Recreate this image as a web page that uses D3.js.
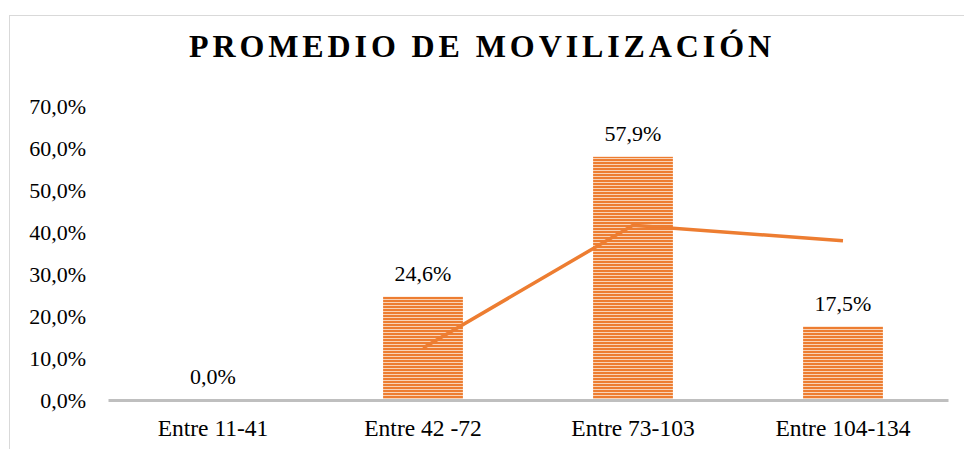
<!DOCTYPE html>
<html>
<head>
<meta charset="utf-8">
<script src="https://cdn.jsdelivr.net/npm/d3@7"></script>
<style>
  body { margin: 0; background: #fff; }
  svg { display: block; }
  svg text { font-family: "Liberation Serif", "Times New Roman", serif; }
</style>
</head>
<body>
<svg id="chart"></svg>
<script>
// data
const categories = ["Entre 11-41", "Entre 42 -72", "Entre 73-103", "Entre 104-134"];
const barValues = [0.0, 24.6, 57.9, 17.5];
const lineValues = [null, 12.4, 41.6, 37.9];
const yTicks = [0, 10, 20, 30, 40, 50, 60, 70];

const width = 964, height = 449;
const margin = { left: 108, right: 16, top: 106, bottom: 49 };
const orange = "#ED7D31";

const svg = d3.select("#chart").attr("width", width).attr("height", height);

// outer frame (only top/left visible in the shot)
svg.append("rect")
  .attr("x", 9.5).attr("y", 15.5)
  .attr("width", 2000).attr("height", 2000)
  .attr("fill", "none").attr("stroke", "#d9d9d9");

// striped fill for the bars
const pat = svg.append("defs").append("pattern")
  .attr("id", "stripes")
  .attr("patternUnits", "userSpaceOnUse")
  .attr("width", 8).attr("height", 3);
pat.append("rect").attr("width", 8).attr("height", 3).attr("fill", "#f9d3b6");
pat.append("rect").attr("width", 8).attr("height", 2).attr("fill", orange);

const x = d3.scaleBand()
  .domain(categories)
  .range([margin.left, width - margin.right])
  .paddingInner(0.62)
  .paddingOuter(0.31);

const y = d3.scaleLinear()
  .domain([0, 70])
  .range([height - margin.bottom, margin.top]);

// title
svg.append("text")
  .attr("x", width / 2).attr("y", 57)
  .attr("text-anchor", "middle")
  .attr("font-size", 32).attr("font-weight", "bold")
  .attr("letter-spacing", 3.9)
  .text("PROMEDIO DE MOVILIZACIÓN");

// y axis labels (no axis line)
const yAxis = svg.append("g")
  .attr("transform", `translate(${margin.left - 22},0)`)
  .call(d3.axisLeft(y).tickValues(yTicks).tickSize(0)
    .tickFormat(d => d.toFixed(1).replace(".", ",") + "%"));
yAxis.attr("font-family", null);
yAxis.select(".domain").remove();
yAxis.selectAll("text")
  .attr("font-size", 22).attr("fill", "#000")
  .attr("dy", "0.32em").attr("x", 0);

// bars
svg.append("g").selectAll("rect")
  .data(barValues)
  .join("rect")
  .attr("x", (d, i) => x(categories[i]))
  .attr("y", d => y(d))
  .attr("width", x.bandwidth())
  .attr("height", d => y(0) - y(d))
  .attr("fill", "url(#stripes)");

// x axis line and labels
const xAxis = svg.append("g")
  .attr("transform", `translate(0,${y(0)})`)
  .call(d3.axisBottom(x).tickSize(0).tickSizeOuter(0));
xAxis.attr("font-family", null);
xAxis.select(".domain").attr("stroke", "#bfbfbf").attr("stroke-width", 3);
xAxis.selectAll("text")
  .attr("font-size", 23.5).attr("fill", "#000")
  .attr("y", 36).attr("dy", 0);

// line series
const line = d3.line()
  .defined(d => d !== null)
  .x((d, i) => x(categories[i]) + x.bandwidth() / 2)
  .y(d => y(d));
svg.append("path")
  .datum(lineValues)
  .attr("d", line)
  .attr("fill", "none")
  .attr("stroke", orange)
  .attr("stroke-width", 3.5);

// data labels
svg.append("g").selectAll("text")
  .data(barValues)
  .join("text")
  .attr("x", (d, i) => x(categories[i]) + x.bandwidth() / 2)
  .attr("y", d => y(d) - 16)
  .attr("text-anchor", "middle")
  .attr("font-size", 22)
  .text(d => d.toFixed(1).replace(".", ",") + "%");
</script>
</body>
</html>
